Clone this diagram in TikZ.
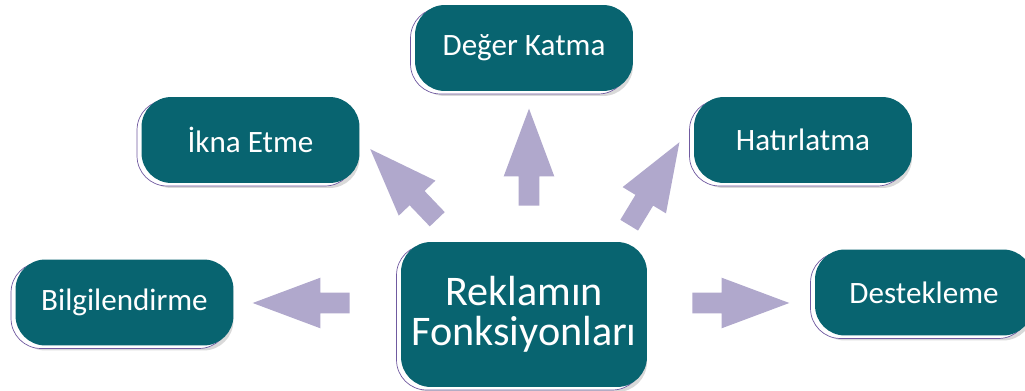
\documentclass[tikz,border=0pt]{standalone}
\usepackage{fontspec}
\setmainfont{Carlito}
\usetikzlibrary{shapes.arrows,shadows}
\definecolor{tealbox}{RGB}{8,100,112}
\definecolor{lilac}{RGB}{176,168,204}
\definecolor{rimpurple}{RGB}{112,90,160}
\begin{document}
\begin{tikzpicture}
[
 x=0.02cm, y=-0.02cm,
 BOX/.style={rectangle, rounded corners=0.6cm, fill=tealbox, text=white, inner sep=0mm,
             minimum width=4.36cm, minimum height=1.72cm, font=\fontsize{17.7}{21}\selectfont,
             drop shadow={shadow xshift=0cm, shadow yshift=-0.1cm, opacity=0.15, fill=black},
             copy shadow={shadow xshift=-0.09cm, shadow yshift=-0.06cm, fill=white, draw=rimpurple, thin}},
 MAINBOX/.style={BOX, minimum width=4.92cm, minimum height=2.9cm, align=center,
             font=\fontsize{24}{22.8}\selectfont},
 ARROW/.style={single arrow, fill=lilac, draw=none, anchor=tail, minimum height=1.94cm,
             inner xsep=0mm, inner ysep=0.2cm, single arrow head extend=0.3cm,
             single arrow tip angle=41},
]
%
\useasboundingbox (0,0) rectangle (1025,391);
\clip (0,0) rectangle (1025,391);
%
\node [MAINBOX] (REKLAM)  at (524,314.5) {Reklamın\\Fonksiyonları};
%
\node [BOX]     (BILGI)   at (124.5,302.5) {Bilgilendirme};
\node [BOX]     (IKNA)    at (250.5,140)   {İkna Etme};
\node [BOX]     (DEGER)   at (524,48)      {Değer Katma};
\node [BOX]     (HATIR)   at (803,140)     {Hatırlatma};
\node [BOX]     (DESTEK)  at (924,292.5)   {Destekleme};
%
\node [ARROW, rotate=180]   (TOBILGI)  at (350,303)     {};
\node [ARROW, rotate=133.7] (TOIKNA)   at (437.5,219.5) {};
\node [ARROW, rotate=90]    (TODEGER)  at (529,206)     {};
\node [ARROW, rotate=58.8]  (TOHATIR)  at (629,225.5)   {};
\node [ARROW]               (TODESTEK) at (692,303)     {};
%
\end{tikzpicture}
\end{document}
